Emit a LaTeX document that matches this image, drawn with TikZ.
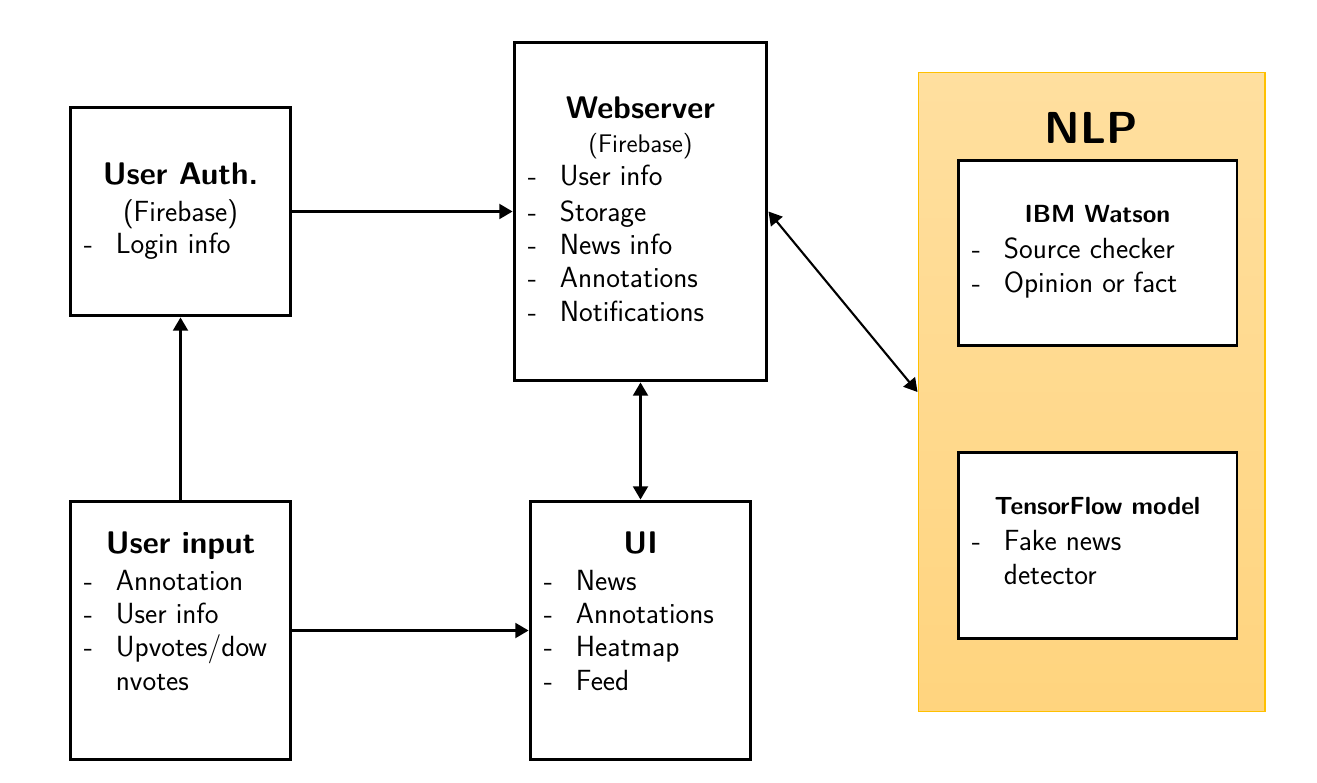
\documentclass[tikz,border=0pt]{standalone}
\usepackage{tikz}
\usetikzlibrary{arrows.meta, positioning, calc}
\definecolor{nlpTop}{HTML}{FFDF9F}
\definecolor{nlpBottom}{HTML}{FFD47E}
\definecolor{nlpEdge}{HTML}{FFC000}
\tikzset{
    block/.style={draw, line width=1.7pt, fill=white, inner sep=0pt},
    panel/.style={draw=nlpEdge, line width=0.6pt, top color=nlpTop, bottom color=nlpBottom, inner sep=0pt},
    item/.style={font=\sffamily\fontsize{16.6}{19.5}\selectfont, inner sep=0pt},
    head/.style={font=\sffamily\bfseries\fontsize{17.8}{21}\selectfont, inner sep=0pt},
    subhead/.style={font=\sffamily\bfseries\fontsize{14.1}{17}\selectfont, inner sep=0pt},
    link/.style={line width=1.2pt}
}
\newcommand{\BoxItem}[4]{
    % #1: box name, #2: item id, #3: baseline below box top, #4: text
    \node[item, anchor=base west] (#1-d#2) at ($(#1.north west)+(15,#3)$) {-};
    \node[item, anchor=base west] (#1-t#2) at ($(#1.north west)+(47,#3)$) {#4};
}
\begin{document}
\begin{tikzpicture}[x=0.02cm, y=-0.02cm, >={Triangle[length=7.5pt, width=8.5pt]}]
    \useasboundingbox (0,0) rectangle (1317,783);

    % NLP panel
    \node[panel, minimum width=6.94cm, minimum height=12.8cm] (nlp) at (1091.5,392) {};
    \node[font=\sffamily\bfseries\fontsize{25.5}{30}\selectfont, inner sep=0pt, anchor=base] (nlpTitle) at ($(nlp.north)+(0,72)$) {NLP};

    \node[block, minimum width=5.58cm, minimum height=3.72cm] (ibm) at (1097.5,253) {};
    \node[subhead, anchor=base] (ibmTitle) at ($(ibm.north)+(0,64)$) {IBM Watson};
    \BoxItem{ibm}{1}{100}{Source checker}
    \BoxItem{ibm}{2}{134}{Opinion or fact}

    \node[block, minimum width=5.58cm, minimum height=3.74cm] (tf) at (1097.5,545.5) {};
    \node[subhead, anchor=base] (tfTitle) at ($(tf.north)+(0,64)$) {TensorFlow model};
    \BoxItem{tf}{1}{100}{Fake news}
    \node[item, anchor=base west] (tf-t2) at ($(tf.north west)+(47,134)$) {detector};

    % User Auth.
    \node[block, minimum width=4.42cm, minimum height=4.18cm] (auth) at (180.5,211.5) {};
    \node[head, anchor=base] (authTitle) at ($(auth.north)+(0,79)$) {User Auth.};
    \node[item, anchor=base] (authSub) at ($(auth.north)+(0,116)$) {(Firebase)};
    \BoxItem{auth}{1}{148}{Login info}

    % Webserver
    \node[block, minimum width=5.06cm, minimum height=6.78cm] (web) at (640.5,211.5) {};
    \node[head, anchor=base] (webTitle) at ($(web.north)+(0,78)$) {Webserver};
    \node[item, font=\sffamily\fontsize{14.5}{17}\selectfont, anchor=base] (webSub) at ($(web.north)+(0,112)$) {(Firebase)};
    \BoxItem{web}{1}{145}{User info}
    \BoxItem{web}{2}{181}{Storage}
    \BoxItem{web}{3}{214}{News info}
    \BoxItem{web}{4}{247}{Annotations}
    \BoxItem{web}{5}{281}{Notifications}

    % User input
    \node[block, minimum width=4.42cm, minimum height=5.18cm] (input) at (180.5,630.5) {};
    \node[head, anchor=base] (inputTitle) at ($(input.north)+(0,54)$) {User input};
    \BoxItem{input}{1}{91}{Annotation}
    \BoxItem{input}{2}{124}{User info}
    \BoxItem{input}{3}{157}{Upvotes/dow}
    \node[item, anchor=base west] (input-t4) at ($(input.north west)+(47,191)$) {nvotes};

    % UI
    \node[block, minimum width=4.42cm, minimum height=5.18cm] (ui) at (640.5,630.5) {};
    \node[head, anchor=base] (uiTitle) at ($(ui.north)+(0,54)$) {UI};
    \BoxItem{ui}{1}{91}{News}
    \BoxItem{ui}{2}{124}{Annotations}
    \BoxItem{ui}{3}{157}{Heatmap}
    \BoxItem{ui}{4}{191}{Feed}

    % Connectors
    \draw[link, ->] (auth.east) -- (auth.east -| web.west);
    \draw[link, ->] (input.north) -- (auth.south);
    \draw[link, ->] (input.east) -- (ui.west);
    \draw[link, <->] (web.south) -- (ui.north);
    \draw[link, <->] (web.east) -- (nlp.west);
\end{tikzpicture}
\end{document}
